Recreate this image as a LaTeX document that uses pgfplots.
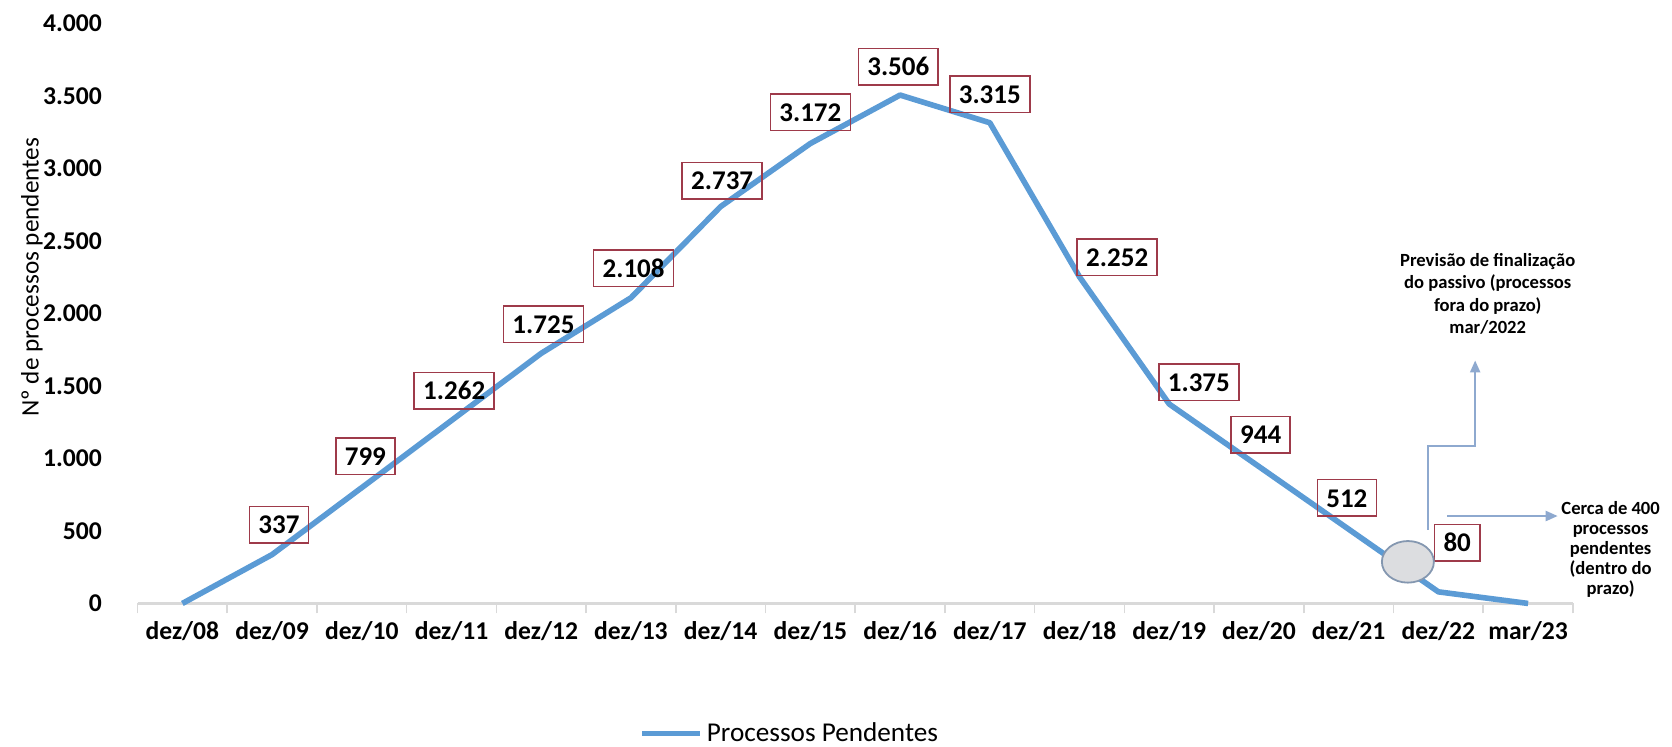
\documentclass[border=0pt]{standalone}
\usepackage{fontspec}
\setmainfont{Carlito}
\usepackage{pgfplots}
\usepackage{pgfplotstable}
\pgfplotsset{compat=1.18}
\usetikzlibrary{arrows.meta}
\definecolor{lineblue}{HTML}{5B9BD5}
\definecolor{boxred}{HTML}{9E3A4A}
\definecolor{arrowblue}{HTML}{8EA9CF}
\definecolor{axisgray}{HTML}{D9D9D9}
\definecolor{ellgray}{HTML}{DCDDE0}
\definecolor{ellborder}{HTML}{8497B0}

\pgfplotstableread{
x y
0 0
1 337
2 799
3 1262
4 1725
5 2108
6 2737
7 3172
8 3506
9 3315
10 2252
11 1375
12 944
13 512
14 80
15 0
}\datatable

\begin{document}
\begin{tikzpicture}[
  dlab/.style={draw=boxred, line width=0.8pt, font=\fontsize{13.5}{16}\selectfont\bfseries,
    inner xsep=4.5pt, inner ysep=4.5pt, text height=9.2pt, text depth=0pt},
  note/.style={font=\fontsize{9.3}{11.2}\selectfont\bfseries, align=center, text=black}
]
\begin{axis}[
  scale only axis,
  width=717.7pt, height=290pt,
  xmin=-0.5, xmax=15.5,
  ymin=0, ymax=4000,
  clip=false,
  axis x line*=bottom,
  axis y line*=left,
  y axis line style={draw=none},
  x axis line style={draw=axisgray, line width=1.2pt},
  xtick={0,...,15},
  xticklabels={dez/08,dez/09,dez/10,dez/11,dez/12,dez/13,dez/14,dez/15,dez/16,dez/17,dez/18,dez/19,dez/20,dez/21,dez/22,mar/23},
  minor xtick={-0.5,0.5,...,15.5},
  tick align=outside,
  major x tick style={draw=none},
  minor x tick style={draw=axisgray, line width=0.8pt},
  minor tick length=5pt,
  ytick={0,500,...,4000},
  ytick style={draw=none},
  scaled y ticks=false,
  /pgf/number format/.cd, 1000 sep={.}, assume math mode=true,
  /pgfplots/.cd,
  ticklabel style={font=\fontsize{12.8}{15}\selectfont\bfseries},
  yticklabel style={xshift=-10pt},
  xticklabel style={yshift=-1pt},
  every axis y label/.style={at={(axis description cs:-0.0736,0.5625)}, rotate=90, anchor=center,
    font=\fontsize{12.6}{14}\selectfont},
  ylabel={N\textordmasculine\ de processos pendentes},
  legend style={at={(0.455,-0.224)}, anchor=center, draw=none, fill=none,
    font=\fontsize{13.6}{16}\selectfont, inner sep=0pt},
  legend image code/.code={\draw[#1, line width=2.8pt] (0pt,0pt) -- (29pt,0pt);},
]
\addplot[color=lineblue, line width=2.8pt, line join=round] table[x=x, y=y] {\datatable};
\addlegendentry{Processos Pendentes}

% data labels
\node[dlab] at (axis cs:1.076,544) {337};
\node[dlab] at (axis cs:2.04,1015) {799};
\node[dlab] at (axis cs:3.03,1467) {1.262};
\node[dlab] at (axis cs:4.025,1926) {1.725};
\node[dlab] at (axis cs:5.03,2312) {2.108};
\node[dlab] at (axis cs:6.017,2915) {2.737};
\node[dlab] at (axis cs:7.0,3386) {3.172};
\node[dlab] at (axis cs:7.98,3702) {3.506};
\node[dlab] at (axis cs:9.0,3511) {3.315};
\node[dlab] at (axis cs:10.42,2386) {2.252};
\node[dlab] at (axis cs:11.33,1526) {1.375};
\node[dlab] at (axis cs:12.02,1165) {944};
\node[dlab] at (axis cs:12.98,728) {512};
\node[dlab] at (axis cs:14.21,419) {80};

% ellipse and arrows
\draw[fill=ellgray, draw=ellborder, line width=0.9pt] (axis cs:13.66,287) ellipse [x radius=13pt, y radius=10.4pt];
\draw[arrowblue, line width=1.1pt, -{Triangle[length=6pt,width=5pt]}]
  (axis cs:13.88,507) -- (axis cs:13.88,1088) -- (axis cs:14.41,1088) -- (axis cs:14.41,1676);
\draw[arrowblue, line width=1.1pt, -{Triangle[length=6pt,width=5pt]}]
  (axis cs:14.10,603) -- (axis cs:15.33,603);
\node[note] at (axis cs:14.55,2136) {Previsão de finalização\\do passivo (processos\\fora do prazo)\\mar/2022};
\node[note, font=\fontsize{9.3}{10}\selectfont\bfseries] at (axis cs:15.92,375) {Cerca de 400\\processos\\pendentes\\(dentro do\\prazo)};

\coordinate (bbsw) at (rel axis cs:-0.0958,-0.2463);
\coordinate (bbne) at (rel axis cs:1.069,1.0404);
\end{axis}
\pgfresetboundingbox
\path[use as bounding box] (bbsw) rectangle (bbne);
\end{tikzpicture}
\end{document}
